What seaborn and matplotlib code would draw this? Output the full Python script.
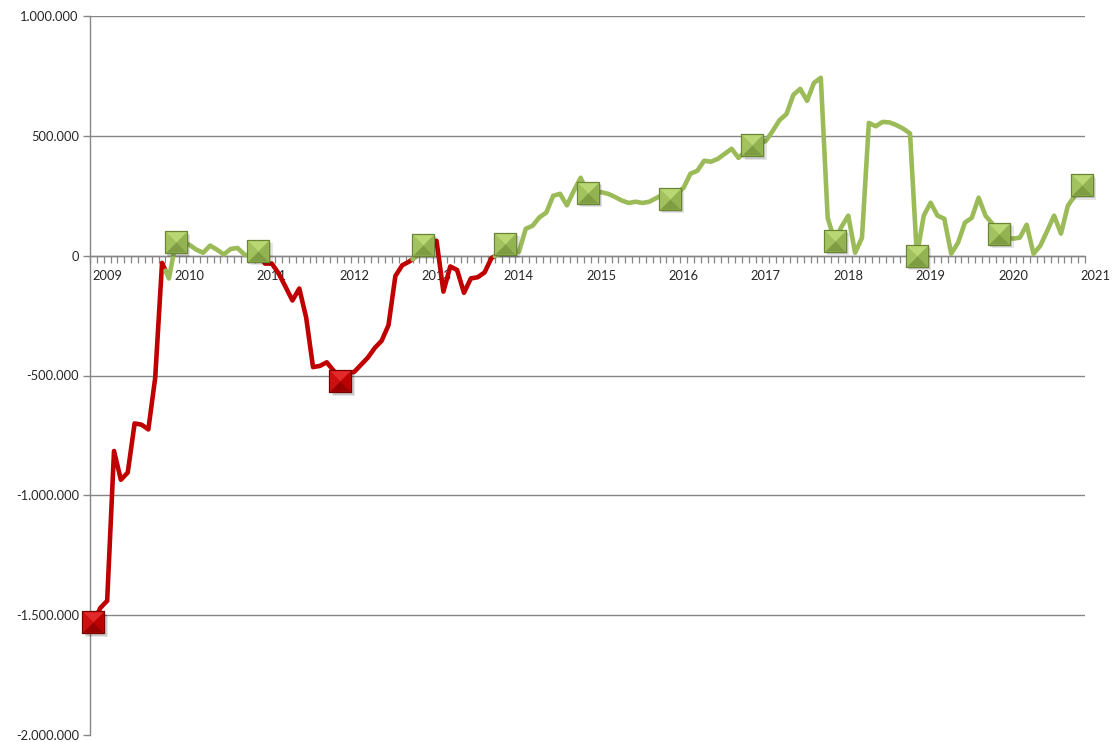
import numpy as np
import pandas as pd
import matplotlib
matplotlib.use("Agg")
import matplotlib.pyplot as plt
import seaborn as sns
from matplotlib.path import Path
from matplotlib.ticker import FuncFormatter
from matplotlib.transforms import ScaledTranslation

# Monthly balance in thousands, Nov 2008 .. Nov 2020
balance_k = [
    -1530, -1470, -1440, -815, -935, -905, -700, -705, -725, -510, -30, -95,
    55, 60, 45, 25, 12, 42, 25, 5, 28, 32, 5, -5,
    20, -33, -33, -75, -130, -187, -137, -258, -465, -460, -445, -480,
    -525, -490, -485, -455, -425, -385, -355, -290, -85, -40, -25, -5,
    45, 55, 62, -150, -45, -60, -155, -95, -90, -70, -10, 5,
    50, 15, 15, 112, 125, 160, 180, 250, 258, 210, 270, 325,
    262, 262, 265, 258, 245, 230, 220, 225, 220, 225, 240, 255,
    237, 260, 283, 342, 354, 396, 392, 404, 425, 446, 408, 435,
    460, 465, 479, 521, 566, 591, 671, 696, 646, 721, 742, 158,
    62, 120, 167, 12, 75, 554, 540, 558, 556, 545, 530, 510,
    0, 167, 221, 167, 154, 8, 54, 138, 158, 242, 167, 133,
    92, 75, 71, 75, 129, 8, 42, 104, 167, 92, 208, 250,
    295,
]
# Stretches of months shown in the deficit colour (inclusive index ranges)
deficit_ranges = [(0, 10), (25, 46), (49, 58)]
year_labels = [str(y) for y in range(2009, 2022)]
year_label_index = [2 + 12 * k for k in range(len(year_labels))]
marker_step = 12

RED = "#C00000"
GREEN = "#9BBB59"
GRID = "#868686"
TEXT = "#262626"

values = np.array(balance_k, dtype=float) * 1000.0
n = len(values)
idx = np.arange(n)
tone = np.array(["pos"] * n, dtype=object)
for a, b in deficit_ranges:
    tone[a:b + 1] = "neg"

# Split the series into runs of one tone; a change of tone is joined at the
# midpoint between the two months.
rows = []
run = 0
for i in range(n):
    rows.append((idx[i], values[i], tone[i], run))
    if i + 1 < n and tone[i + 1] != tone[i]:
        mx = i + 0.5
        my = (values[i] + values[i + 1]) / 2.0
        rows.append((mx, my, tone[i], run))
        run += 1
        rows.append((mx, my, tone[i + 1], run))
line_df = pd.DataFrame(rows, columns=["idx", "value", "tone", "run"])

marker_df = pd.DataFrame({
    "idx": idx[::marker_step],
    "value": values[::marker_step],
    "tone": tone[::marker_step],
})

sns.set_theme(style="white")
plt.rcParams["font.family"] = ["Lato", "DejaVu Sans"]

fig = plt.figure(figsize=(11.2, 7.42), dpi=100)
ax = fig.add_axes([90 / 1120, 1 - 735 / 742, 995 / 1120, 719 / 742])

sns.lineplot(
    data=line_df, x="idx", y="value", hue="tone", units="run",
    estimator=None, sort=False, palette={"neg": RED, "pos": GREEN},
    linewidth=3.3, legend=False, ax=ax,
    solid_joinstyle="round", solid_capstyle="round", zorder=3,
)

# Bevelled square markers: soft shadow, body, then four facets
sq = Path([(-1, -1), (1, -1), (1, 1), (-1, 1), (-1, -1)],
          [Path.MOVETO, Path.LINETO, Path.LINETO, Path.LINETO, Path.CLOSEPOLY])
def tri(p1, p2):
    return Path([p1, p2, (0, 0), p1],
                [Path.MOVETO, Path.LINETO, Path.LINETO, Path.CLOSEPOLY])
facet_top = tri((-1, 1), (1, 1))
facet_left = tri((-1, -1), (-1, 1))
facet_right = tri((1, 1), (1, -1))
facet_bottom = tri((1, -1), (-1, -1))

shades = {
    "pos": {"top": "#B9D873", "left": "#A2C260", "right": "#93B352",
            "bottom": "#7E9D43", "edge": "#6A8533"},
    "neg": {"top": "#E22A2A", "left": "#CC1010", "right": "#BA0000",
            "bottom": "#970000", "edge": "#780000"},
}
msize = 250
for off, alpha in ((2.6, 0.10), (1.6, 0.12)):
    shadow = ax.transData + ScaledTranslation(off / 72, -off / 72,
                                              fig.dpi_scale_trans)
    ax.scatter(marker_df["idx"], marker_df["value"], s=msize, marker=sq,
               color="#000000", alpha=alpha, linewidths=0, zorder=4,
               transform=shadow, clip_on=False)
for t, sub in marker_df.groupby("tone"):
    c = shades[t]
    sns.scatterplot(x=sub["idx"], y=sub["value"], s=msize, marker=sq,
                    color=c["left"], edgecolor=c["edge"], linewidth=0.9,
                    zorder=5, ax=ax, clip_on=False, legend=False)
    for part, path in (("top", facet_top), ("left", facet_left),
                       ("right", facet_right), ("bottom", facet_bottom)):
        ax.scatter(sub["idx"], sub["value"], s=msize * 0.86, marker=path,
                   color=c[part], linewidths=0, zorder=6, clip_on=False)

# Axes styling
ax.set_xlim(-0.5, n - 0.5)
ax.set_ylim(-2_000_000, 1_000_000)
ax.set_yticks(np.arange(-2_000_000, 1_000_001, 500_000))
ax.yaxis.set_major_formatter(
    FuncFormatter(lambda v, _: f"{int(round(v)):,}".replace(",", ".")))
ax.grid(axis="y", color=GRID, linewidth=1.0)
ax.grid(axis="x", visible=False)
for tk in ax.yaxis.get_major_ticks():
    if tk.get_loc() <= -2_000_000:
        tk.gridline.set_visible(False)

for s in ("top", "right"):
    ax.spines[s].set_visible(False)
ax.spines["left"].set_color(GRID)
ax.spines["left"].set_linewidth(1.0)
ax.spines["bottom"].set_position(("data", 0))
ax.spines["bottom"].set_color(GRID)
ax.spines["bottom"].set_linewidth(1.0)

ax.set_xticks(np.arange(-0.5, n, 1.0))
ax.tick_params(axis="x", direction="out", length=5, width=0.9, color=GRID,
               labelbottom=False, bottom=True)
ax.tick_params(axis="y", direction="out", length=5, width=1, color=GRID,
               labelsize=9.3, labelcolor=TEXT, pad=3, left=True)
ax.set_xlabel("")
ax.set_ylabel("")

for pos, lab in zip(year_label_index, year_labels):
    ax.annotate(lab, xy=(pos, 0), xytext=(0, -15), textcoords="offset points",
                ha="center", va="center", fontsize=9.3, color=TEXT,
                annotation_clip=False, zorder=2)

fig.savefig("out.png", dpi=100)
